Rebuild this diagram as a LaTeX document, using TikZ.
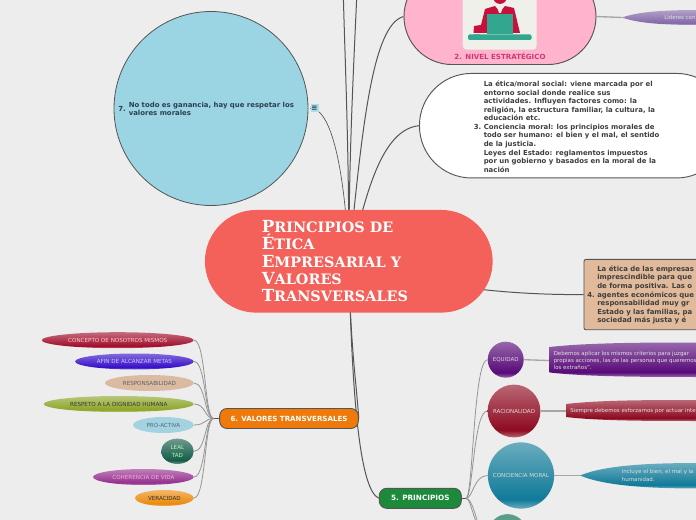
\documentclass[tikz,border=0pt]{standalone}
\usepackage{fontspec}
\setmainfont{DejaVu Sans}
\newfontfamily\titlefont{DejaVu Serif}
\usepackage{xcolor}
\usepackage{tikz}
\usetikzlibrary{shapes.geometric,backgrounds}

\definecolor{pagebg}{HTML}{EDEDED}
\definecolor{rim}{HTML}{555555}
\definecolor{inkgray}{HTML}{3E3E3E}
\definecolor{inkblue}{HTML}{2A4050}
\definecolor{salmon}{HTML}{F4615A}
\definecolor{pinkfill}{HTML}{FFB3CC}
\definecolor{pinkink}{HTML}{CE3A72}
\definecolor{tilefill}{HTML}{F0F0EA}
\definecolor{iconred}{HTML}{C8103C}
\definecolor{iconteal}{HTML}{32A68E}
\definecolor{lilac}{HTML}{8468A8}
\definecolor{tanfill}{HTML}{E0BA9A}
\definecolor{skyfill}{HTML}{9BD4E3}
\definecolor{skypale}{HTML}{AADCE8}
\definecolor{orangefill}{HTML}{EF7A0B}
\definecolor{greenfill}{HTML}{1C8A3A}
\definecolor{crimson}{HTML}{A00F2D}
\definecolor{indigo}{HTML}{370FC8}
\definecolor{sand}{HTML}{DABAA0}
\definecolor{olive}{HTML}{8CA528}
\definecolor{pale}{HTML}{A3D2E0}
\definecolor{pine}{HTML}{145C48}
\definecolor{orchid}{HTML}{96308F}
\definecolor{amber}{HTML}{EB8A0C}
\definecolor{plum}{HTML}{580A78}
\definecolor{wine}{HTML}{8E0A20}
\definecolor{ocean}{HTML}{0F7A98}
\definecolor{seagreen}{HTML}{5A9E8A}
\colorlet{glossdark}{black}
\colorlet{glosslight}{gray}
\pgfdeclareverticalshading[glosslight,glossdark]{gloss}{100bp}{
  color(0bp)=(glosslight); color(25bp)=(glosslight); color(32bp)=(glossdark);
  color(75bp)=(glosslight); color(100bp)=(glosslight)}
\newcommand{\capsline}[2]{{\fontsize{12.5}{13}\selectfont #1}{\fontsize{10.8}{13}\selectfont #2}}

\begin{document}
\begin{tikzpicture}[
    x=0.75pt, y=-0.75pt,
    gloss/.code={\colorlet{glossdark}{#1}\colorlet{glosslight}{#1!62!white}\tikzset{shade, shading=gloss}},
    stem/.style={rim, line width=0.75pt},
    twig/.style={black!42, line width=0.6pt},
    bar/.style={black!35, line width=1pt},
    leaf/.style={ellipse, inner sep=0pt, minimum height=12pt, anchor=east,
                 align=center, font=\fontsize{4.2}{5.6}\selectfont},
    ball/.style={circle, inner sep=0pt, align=center, font=\fontsize{4.15}{5.6}\selectfont, text=white!85!black},
    heading/.style={draw=rim, line width=0.7pt, rounded corners=5.5pt, minimum height=15pt,
                    inner sep=0pt, text=white, font=\fontsize{5.3}{6}\selectfont\bfseries},
    bodytext/.style={anchor=west, inner sep=0pt, align=left, text=inkgray,
                     font=\fontsize{5.2}{6.4}\selectfont\bfseries},
    smalltext/.style={anchor=west, inner sep=0pt, align=left, text=white!88!black,
                      font=\fontsize{4.1}{5.4}\selectfont}
]
\useasboundingbox (0,0) rectangle (696,520);
\clip (0,0) rectangle (696,520);

% central topic
\node[fill=salmon, rounded corners=38.5pt, minimum width=215.8pt, minimum height=77pt] (central) at (348.8,261.3) {};
\node[anchor=west, inner sep=0pt, align=left, text=white, font=\titlefont\bfseries\fontsize{10.8}{13}\selectfont] (title) at (261.5,261.3)
  {\capsline{P}{RINCIPIOS DE}\\ \capsline{É}{TICA}\\ \capsline{E}{MPRESARIAL Y}\\ \capsline{V}{ALORES}\\ \capsline{T}{RANSVERSALES}};

% topic 2
\node[draw=rim, line width=0.7pt, fill=pinkfill, rounded corners=36pt, minimum width=144pt, minimum height=72pt, anchor=south] (nivel) at (500,65) {};
\node[fill=tilefill, rounded corners=3pt, minimum width=55.5pt, minimum height=45pt, anchor=south] (tile) at (499.7,50) {};
\fill[iconred] (500,-3) circle (5.2pt);
\fill[iconred] (473.5,33) -- (474,26) -- (481,25) -- (485,9) -- (495,6) -- (500,12) -- (505,6) -- (514,8) -- (520,33) -- cycle;
\fill[tilefill] (497,6) -- (503,6) -- (501,13) -- (499,13) -- cycle;
\fill[iconteal] (487,14) rectangle (513,34);
\fill[iconteal, rounded corners=1pt] (468,34.5) rectangle (531.5,40);
\fill[iconteal] (480,34.5) arc (0:180:3 and 3) -- cycle;
\node[inner sep=0pt, text=pinkink, font=\fontsize{5.3}{6}\selectfont\bfseries] (nivellabel) at (500,56.3) {2. NIVEL ESTRATÉGICO};
\path[gloss=lilac] (622,17.5) .. controls (640,11) and (670,10) .. (700,10) -- (700,25) .. controls (670,25) and (640,24) .. (622,17.5) -- cycle;
\coordinate (liderestip) at (622,17.5);
\node[smalltext] (lideres) at (664,17.8) {Líderes con};

% topic 3
\node[draw=rim, line width=0.7pt, fill=white, rounded corners=39pt, minimum width=231.75pt, minimum height=78.4pt, anchor=west] (moral) at (419,125.7) {};
\node[bodytext] (moralnum) at (473.5,126.7) {3.};
\node[bodytext] (moraltext) at (483.5,126.7) {La ética/moral social: viene marcada por el\\ entorno social donde realice sus\\ actividades. Influyen factores como: la\\ religión, la estructura familiar, la cultura, la\\ educación etc.\\ Conciencia moral: los principios morales de\\ todo ser humano: el bien y el mal, el sentido\\ de la justicia.\\ Leyes del Estado: reglamentos impuestos\\ por un gobierno y basados en la moral de la\\ nación};

% topic 4
\node[draw=rim, line width=0.7pt, fill=tanfill, rounded corners=1.5pt, minimum width=120pt, minimum height=52.7pt, anchor=north west] (empresa) at (583.5,259) {};
\node[bodytext] (empresanum) at (587,295) {4.};
\node[bodytext] (empresatext) at (597,295) {La ética de las empresas\\ imprescindible para que\\ de forma positiva. Las o\\ agentes económicos que\\ responsabilidad muy gr\\ Estado y las familias, pa\\ sociedad más justa y é};

% topic 7
\node[circle, draw=rim, line width=0.6pt, fill=skyfill, minimum size=145.5pt, inner sep=0pt] (ganancia) at (211,108.5) {};
\node[bodytext, text=inkblue] (gananum) at (118,108.8) {7.};
\node[bodytext, text=inkblue, font=\fontsize{5.2}{6}\selectfont\bfseries] (ganatext) at (128.5,108.5) {No todo es ganancia, hay que respetar los\\ valores morales};
\node[fill=skypale, minimum size=6pt, inner sep=0pt, text=inkblue, font=\fontsize{5.5}{6}\selectfont\bfseries] (notes) at (314.5,108.3) {≡};

% topic 6 with its leaves
\node[heading, fill=orangefill, minimum width=104pt] (valores) at (289,418.5) {6. VALORES TRANSVERSALES};
\coordinate (valhub) at (213.5,418.5);
\node[leaf, gloss=crimson, minimum width=114pt, text=white!80!red] (concepto) at (194,340.2) {CONCEPTO DE NOSOTROS MISMOS};
\node[leaf, gloss=indigo, minimum width=89pt, text=white!78!blue] (afin) at (194,361.5) {AFIN DE ALCANZAR METAS};
\node[leaf, fill=sand, minimum width=66.5pt, text=black!62] (responsa) at (194,383) {RESPONSABILIDAD};
\node[leaf, gloss=olive, minimum width=112.5pt, text=black!78] (respeto) at (194,404) {RESPETO A LA DIGNIDAD HUMANA};
\node[leaf, fill=pale, minimum width=45.5pt, text=inkblue!80] (proactiva) at (194,425) {PRO-ACTIVA};
\node[leaf, gloss=pine, minimum width=24.5pt, minimum height=19pt, text=white!70!green] (lealtad) at (194,451.3) {LEAL\\TAD};
\node[leaf, gloss=orchid, minimum width=75.5pt, text=white!68!magenta] (coherencia) at (194,477) {COHERENCIA DE VIDA};
\node[leaf, gloss=amber, minimum width=44pt, text=black!80] (veracidad) at (194,498) {VERACIDAD};

% topic 5 with its branches
\node[heading, fill=greenfill, minimum width=61.5pt, font=\fontsize{5.45}{6}\selectfont\bfseries] (principios) at (420.3,498.3) {5. PRINCIPIOS};
\coordinate (prinhub) at (466,498.3);
\coordinate (prindown) at (480,530);
\node[ball, gloss=plum, minimum size=27pt] (equidad) at (505.7,359.7) {EQUIDAD};
\node[ball, gloss=wine, minimum size=39.6pt] (racional) at (514,411) {RACIONALIDAD};
\node[ball, gloss=ocean, minimum size=49.7pt] (conciencia) at (521,475.5) {CONCIENCIA MORAL};
\node[circle, inner sep=0pt, fill=seagreen, minimum size=29pt] (lastball) at (507.5,533.5) {};

\path[gloss=plum] (549.5,347) .. controls (590,342.5) and (650,342.5) .. (700,342.5) -- (700,377) .. controls (650,377) and (590,377) .. (549.5,372.5) -- cycle;
\node[smalltext] (equidadtext) at (553.5,360.7) {Debemos aplicar los mismos criterios para juzgar\\ propias acciones, las de las personas que queremos\\ los extraños".};
\path[gloss=wine] (566,404) .. controls (600,400) and (650,400) .. (700,400) -- (700,421) .. controls (650,421) and (600,421) .. (566,417) -- cycle;
\node[smalltext] (racionaltext) at (570,411) {Siempre debemos esforzarnos por actuar inte};
\path[gloss=ocean] (580,475.5) .. controls (605,465) and (650,463) .. (700,463) -- (700,488.5) .. controls (650,488.5) and (605,486) .. (580,475.5) -- cycle;
\coordinate (concienciatip) at (580,475.5);
\node[smalltext] (concienciatext) at (621.7,475.5) {incluye el bien, el mal y la\\ humanidad.};

% connectors behind the nodes
\begin{scope}[on background layer]
\fill[pagebg] (0,0) rectangle (696,520);
\coordinate (upleft) at (343.3,-5);
\coordinate (upright) at (356.8,-5);
\draw[stem] (central.center) .. controls (349,150) and (345,60) .. (upleft);
\draw[stem] (central.center) .. controls (349,150) and (354,60) .. (upright);
\draw[stem] (central.center) .. controls (362,130) and (372,25) .. (nivel.west);
\draw[stem] (central.center) .. controls (362,220) and (375,130) .. (moral.west);
\draw[stem] (central.center) .. controls (420,285) and (500,295) .. (empresa.west);
\draw[stem, line width=0.5pt] (central.center) .. controls (346,190) and (335,108) .. (notes.west);
\draw[stem] (central.center) .. controls (350,340) and (356,380) .. (valores.east);
\draw[stem] (central.center) .. controls (352,400) and (360,490) .. (principios.west);
\draw[bar] (nivel.east) -- (liderestip);
\draw[twig, rim, line width=1pt] (valores.west) -- (valhub);
\foreach \leafname in {concepto,afin,responsa,respeto,proactiva,lealtad,coherencia,veracidad}
  \draw[twig] (\leafname.east) .. controls +(12,0) and +(-9,0) .. (valhub);
\draw[twig, rim, line width=1pt] (principios.east) -- (prinhub);
\foreach \ballname in {equidad,racional,conciencia}
  \draw[twig] (\ballname.west) .. controls +(-14,0) and +(7,0) .. (prinhub);
\draw[twig] (lastball.west) .. controls +(-14,0) and +(6,0) .. (prinhub);
\draw[twig] (prindown) .. controls +(-4,-12) and +(6,0) .. (prinhub);
\draw[bar] (equidad.east) -- (equidadtext.west);
\draw[bar] (racional.east) -- (racionaltext.west);
\draw[bar] (conciencia.east) -- (concienciatip);
\end{scope}
\end{tikzpicture}
\end{document}
